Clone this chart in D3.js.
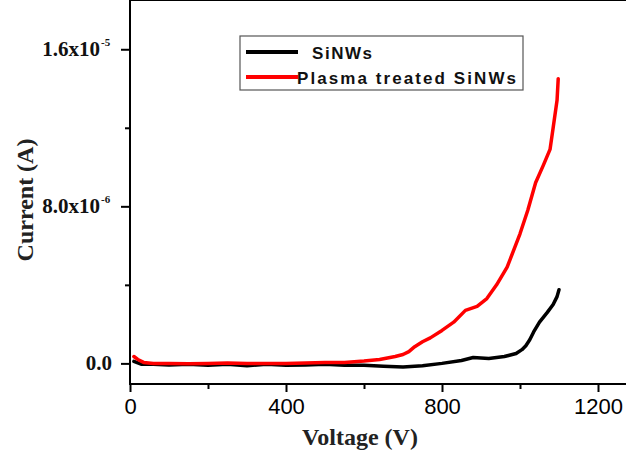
<!DOCTYPE html>
<html>
<head>
<meta charset="utf-8">
<script src="https://cdn.jsdelivr.net/npm/d3@7"></script>
<style>
  body { margin: 0; background: #fff; }
  svg { display: block; }
</style>
</head>
<body>
<svg id="chart"></svg>
<script>
// SiNWs (black) - voltage in V, current in uA (x1e-6 A)
const sinwsVoltage = [10, 30, 60, 100, 150, 200, 250, 300, 350, 400, 450, 500, 550, 600, 650, 700, 750, 800, 850, 880, 920, 960, 990, 1005, 1015, 1025, 1035, 1050, 1070, 1085, 1095, 1100];
const sinwsCurrent = [0.1, -0.05, -0.05, -0.08, -0.05, -0.1, -0.05, -0.12, -0.05, -0.1, -0.08, -0.05, -0.1, -0.1, -0.15, -0.18, -0.12, 0.0, 0.15, 0.3, 0.25, 0.35, 0.5, 0.7, 0.9, 1.2, 1.6, 2.1, 2.6, 3.0, 3.4, 3.75];

// Plasma treated SiNWs (red)
const plasmaVoltage = [10, 20, 35, 60, 100, 150, 200, 250, 300, 350, 400, 450, 500, 550, 600, 640, 680, 700, 715, 730, 750, 770, 800, 830, 860, 890, 915, 940, 967, 1000, 1020, 1040, 1060, 1077, 1085, 1095, 1098];
const plasmaCurrent = [0.35, 0.2, 0.05, 0.0, 0.0, -0.02, 0.0, 0.02, 0.0, 0.0, 0.0, 0.02, 0.05, 0.05, 0.12, 0.2, 0.35, 0.45, 0.6, 0.85, 1.1, 1.3, 1.68, 2.1, 2.7, 2.9, 3.3, 4.0, 4.9, 6.6, 7.8, 9.2, 10.1, 10.9, 12.0, 13.4, 14.5];

const xTicks = [0, 400, 800, 1200];
const xMinorTicks = [200, 600, 1000];
const yTicks = [0, 8e-6, 1.6e-5];
const yTickMain = ["0.0", "8.0x10", "1.6x10"];
const yTickSup = ["", "-6", "-5"];
const yMinorTicks = [4e-6, 1.2e-5];

const seriesNames = ["SiNWs", "Plasma treated SiNWs"];
const seriesColors = ["#000000", "#ff0000"];

var svgWidth = 626, svgHeight = 451;
var svg = d3.select('#chart').attr("width", svgWidth).attr("height", svgHeight);

var x = d3.scaleLinear().domain([0, 1200]).range([130, 598]);
var y = d3.scaleLinear().domain([-1.05e-6, 1.8e-5]).range([384, 10]);

var left = x(0), right = svgWidth, top = y(1.8e-5), bottom = y(-1.05e-6);

// curves
let sets = [
    sinwsVoltage.map((v, i) => ({v: v, c: sinwsCurrent[i] * 1e-6})),
    plasmaVoltage.map((v, i) => ({v: v, c: plasmaCurrent[i] * 1e-6}))
];
let line = d3.line().x(d => x(d.v)).y(d => y(d.c));
sets.forEach((data, i) => {
    svg.append("path").datum(data)
        .attr("fill", "none")
        .attr("stroke", seriesColors[i])
        .attr("stroke-width", 3.5)
        .attr("stroke-linejoin", "round")
        .attr("stroke-linecap", "round")
        .attr("d", line);
});

// x axis
let xAxis = svg.append("g").attr("transform", "translate(0," + bottom + ")")
    .call(d3.axisBottom(x).tickValues(xTicks).tickSize(8).tickSizeOuter(0).tickPadding(6).tickFormat(d3.format("d")));
xAxis.select(".domain").remove();
xAxis.selectAll(".tick line").attr("stroke", "#000").attr("stroke-width", 2);
xAxis.selectAll(".tick text")
    .attr("font-family", "'Liberation Sans', Arial, sans-serif")
    .attr("font-size", "22px").attr("fill", "#000");
svg.append("g").attr("transform", "translate(0," + bottom + ")")
    .call(d3.axisBottom(x).tickValues(xMinorTicks).tickSize(5).tickSizeOuter(0).tickFormat(""))
    .call(g => g.select(".domain").remove())
    .selectAll(".tick line").attr("stroke-width", 2);

// y axis
let yAxis = svg.append("g").attr("transform", "translate(" + left + ",0)")
    .call(d3.axisLeft(y).tickValues(yTicks).tickSize(9).tickSizeOuter(0).tickFormat(""));
yAxis.select(".domain").remove();
yAxis.selectAll(".tick line").attr("stroke-width", 2);
svg.append("g").attr("transform", "translate(" + left + ",0)")
    .call(d3.axisLeft(y).tickValues(yMinorTicks).tickSize(5).tickSizeOuter(0).tickFormat(""))
    .call(g => g.select(".domain").remove())
    .selectAll(".tick line").attr("stroke-width", 2);

yTicks.forEach((t, i) => {
    svg.append("text")
        .attr("x", left - 18 - (yTickSup[i] ? 12 : 0))
        .attr("y", y(t) + 7)
        .attr("text-anchor", "end")
        .attr("font-family", "'Liberation Serif', 'Times New Roman', serif")
        .attr("font-weight", "bold")
        .attr("font-size", "21px")
        .attr("fill", "#111")
        .text(yTickMain[i]);
    if (yTickSup[i]) {
        svg.append("text")
            .attr("x", left - 29)
            .attr("y", y(t) - 3)
            .attr("font-family", "'Liberation Serif', 'Times New Roman', serif")
            .attr("font-weight", "bold")
            .attr("font-size", "11px")
            .attr("fill", "#111")
            .text(yTickSup[i]);
    }
});

// frame lines
svg.append("line").attr("x1", left).attr("x2", left).attr("y1", top).attr("y2", bottom + 1)
    .attr("stroke", "#000").attr("stroke-width", 2);
svg.append("line").attr("x1", left - 1).attr("x2", right).attr("y1", bottom).attr("y2", bottom)
    .attr("stroke", "#000").attr("stroke-width", 2);
svg.append("line").attr("x1", left - 1).attr("x2", right).attr("y1", top).attr("y2", top)
    .attr("stroke", "#000").attr("stroke-width", 2);

// axis titles
svg.append("text")
    .attr("x", 360).attr("y", 445)
    .attr("text-anchor", "middle")
    .attr("font-family", "'Liberation Serif', 'Times New Roman', serif")
    .attr("font-weight", "bold").attr("font-size", "24px").attr("fill", "#222")
    .text("Voltage (V)");
svg.append("text")
    .attr("transform", "translate(33,200) rotate(-90)")
    .attr("text-anchor", "middle")
    .attr("font-family", "'Liberation Serif', 'Times New Roman', serif")
    .attr("font-weight", "bold").attr("font-size", "24px").attr("fill", "#222")
    .text("Current (A)");

// legend
let leg = svg.append("g");
leg.append("rect").attr("x", 240).attr("y", 36).attr("width", 283).attr("height", 54)
    .attr("fill", "#fff").attr("stroke", "#555").attr("stroke-width", 1.2);
let legY = [52, 77];
let legTextX = [312, 297];
let legTextW = [60, 219];
seriesNames.forEach((name, i) => {
    leg.append("line").attr("x1", 246).attr("x2", 298).attr("y1", legY[i]).attr("y2", legY[i])
        .attr("stroke", seriesColors[i]).attr("stroke-width", 4);
    leg.append("text")
        .attr("x", legTextX[i]).attr("y", legY[i] + 7)
        .attr("font-family", "'Liberation Sans', Arial, sans-serif")
        .attr("font-weight", "bold").attr("font-size", "17px").attr("fill", "#111")
        .attr("textLength", legTextW[i]).attr("lengthAdjust", "spacing")
        .text(name);
});
</script>
</body>
</html>
